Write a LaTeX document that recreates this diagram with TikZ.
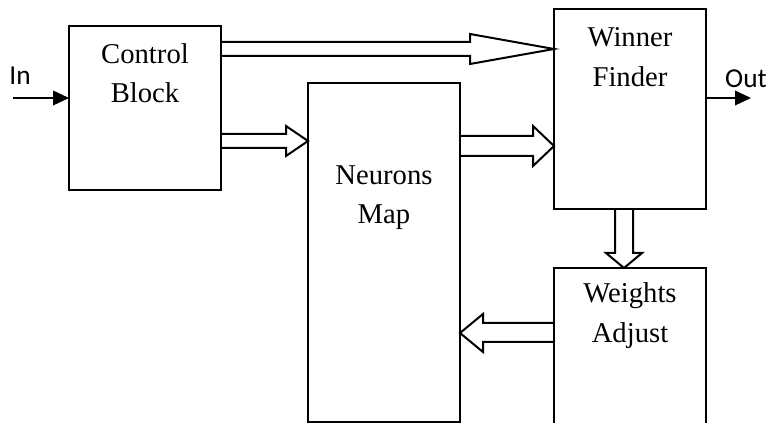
\documentclass[tikz,border=0pt]{standalone}
\usepackage{fontspec}
\setmainfont{Liberation Serif}
\newfontfamily\lblfont{Carlito}
\usetikzlibrary{calc,arrows.meta}
\tikzset{
  box/.style={draw, line width=1.5pt, rectangle, anchor=north west, inner sep=0pt, outer sep=0pt, minimum width=114pt},
  txt/.style={align=center, font=\fontsize{21.5}{29.5}\selectfont, inner sep=0pt},
  lbl/.style={font=\lblfont\fontsize{20.5}{24}\selectfont, inner sep=0pt},
  fat/.style={draw, line width=1.5pt, line join=miter},
  thinarrow/.style={line width=1.2pt, -{Triangle[length=12pt,width=11pt]}},
}
\begin{document}
\begin{tikzpicture}[x=0.75pt,y=-0.75pt]
\useasboundingbox (0,0) rectangle (770,423);
\clip (0,0) rectangle (770,423);
% boxes
\node[box, minimum height=123pt] (cb) at (69,26) {};
\node[box, minimum height=254.25pt] (nm) at (308,83) {};
\node[box, minimum height=150pt] (wf) at (554,9) {};
\node[box, minimum height=250pt] (wa) at (554,268) {};
% texts
\node[txt] (cbt) at ($(cb.north)+(0,47)$) {Control\\Block};
\node[txt] (nmt) at ($(nm.north)+(0,114.5)$) {Neurons\\Map};
\node[txt] (wft) at ($(wf.north)+(0,48)$) {Winner\\Finder};
\node[txt] (wat) at ($(wa.north)+(0,47.5)$) {Weights\\Adjust};
% in / out
\node[lbl] (inl) at (20,76) {In};
\node[lbl] (outl) at (746,78.5) {Out};
\coordinate (inS) at (13,98);
\coordinate (outE) at (751,98);
\draw[thinarrow] (inS) -- (cb.west |- inS);
\draw[thinarrow] (wf.east |- outE) -- (outE);
% control -> winner
\draw[fat] (cb.east |- 0,42) -- (470,42) -- (470,34) -- (wf.west |- 0,49) -- (470,64) -- (470,56) -- (cb.east |- 0,56);
% control -> neurons
\draw[fat] (cb.east |- 0,134) -- (286,134) -- (286,126) -- (nm.west |- 0,141) -- (286,156) -- (286,148) -- (cb.east |- 0,148);
% neurons -> winner
\draw[fat] (nm.east |- 0,136) -- (533,136) -- (533,126) -- (wf.west |- 0,146) -- (533,166) -- (533,156) -- (nm.east |- 0,156);
% winner -> weights
\draw[fat] (wf.south -| 615,0) -- (615,253) -- (606,253) -- (wa.north -| 624,0) -- (642,253) -- (633,253) -- (wf.south -| 633,0);
% weights -> neurons
\draw[fat] (wa.west |- 0,323) -- (483,323) -- (483,314) -- (nm.east |- 0,333) -- (483,352) -- (483,342) -- (wa.west |- 0,342);
\end{tikzpicture}
\end{document}
